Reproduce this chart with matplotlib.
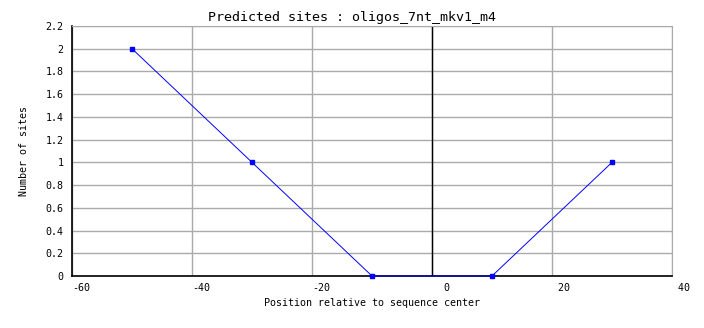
import matplotlib
matplotlib.use('Agg')
import matplotlib.pyplot as plt

positions = [-50, -30, -10, 10, 30]
site_counts = [2, 1, 0, 0, 1]
x_ticks = [-60, -40, -20, 0, 20, 40]
x_tick_labels = ['-60', '-40', '-20', '  0', ' 20', ' 40']
y_ticks = [0, 0.2, 0.4, 0.6, 0.8, 1, 1.2, 1.4, 1.6, 1.8, 2, 2.2]
y_tick_labels = ['0', '0.2', '0.4', '0.6', '0.8', '1', '1.2', '1.4', '1.6', '1.8', '2', '2.2']

plt.rcParams['font.family'] = ['DejaVu Sans Mono']
fs = 7.2

fig = plt.figure(figsize=(7.04, 3.28), dpi=100)
ax = fig.add_axes([72/704, 52/328, 600/704, 250/328])

ax.set_xlim(-60, 40)
ax.set_ylim(0, 2.2)
ax.set_xticks(x_ticks)
ax.set_xticklabels(x_tick_labels, fontsize=fs, ha='left')
ax.set_yticks(y_ticks)
ax.set_yticklabels(y_tick_labels, fontsize=fs)
ax.tick_params(length=0, pad=6)
ax.tick_params(axis='x', pad=5)

ax.grid(True, color='#aaaaaa', linewidth=1)
ax.set_axisbelow(True)
for s in ['top', 'right']:
    ax.spines[s].set_color('#aaaaaa')
for s in ['left', 'bottom']:
    ax.spines[s].set_color('black')
    ax.spines[s].set_linewidth(1.2)

ax.axvline(0, color='black', linewidth=1, zorder=2)
ax.plot(positions, site_counts, color='#0000ff', linewidth=0.7, marker='s',
        markersize=2.2, clip_on=False, zorder=5)

ax.set_xlabel('Position relative to sequence center', fontsize=fs, labelpad=4)
ax.set_ylabel('Number of sites', fontsize=fs, labelpad=12)
fig.text(352/704, 1 - 17/328, 'Predicted sites : oligos_7nt_mkv1_m4',
         fontsize=9.6, ha='center', va='center')

fig.savefig('out.png', dpi=100)
